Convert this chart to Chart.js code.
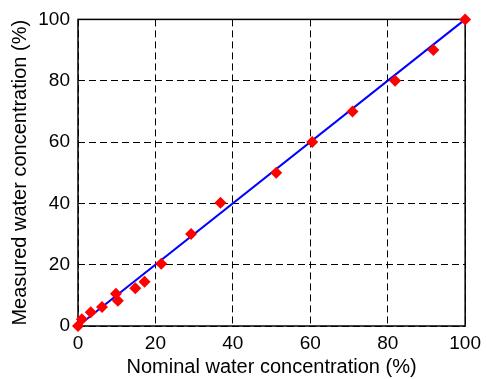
<!DOCTYPE html>
<html>
<head>
<meta charset="utf-8">
<script src="https://cdn.jsdelivr.net/npm/chart.js@4/dist/chart.umd.min.js"></script>
<style>
  html, body { margin: 0; padding: 0; background: #fff; }
  #wrap { width: 487px; height: 379px; }
</style>
</head>
<body>
<div id="wrap"><canvas id="waterChart" width="487" height="379"></canvas></div>
<script>
// Nominal vs measured water concentration (%)
const nominal  = [0, 1, 3.3, 6.2, 9.8, 10.3, 14.8, 17.2, 21.5, 29.2, 36.8, 51.2, 60.5, 70.9, 81.9, 91.8, 100];
const measured = [0, 2.2, 4.5, 6.2, 10.5, 8.2, 12.3, 14.4, 20.3, 30, 40.2, 50, 60, 70, 80, 90, 100];

// 1:1 reference line
const fitX = [0, 100];
const fitY = [0, 100];

const axisMin = 0;
const axisMax = 100;
const tickStep = 20;

const fontFamily = '"Liberation Sans", Arial, Helvetica, sans-serif';

const toPoints = function (xs, ys) {
    return xs.map(function (x, i) { return { x: x, y: ys[i] }; });
};

// solid frame round the plot area (grid lines are dashed)
const frameBox = {
    id: 'frameBox',
    beforeDatasetsDraw: function (chart) {
        const a = chart.chartArea;
        const ctx = chart.ctx;
        ctx.save();
        ctx.strokeStyle = '#000';
        ctx.lineWidth = 1.5;
        ctx.setLineDash([]);
        ctx.strokeRect(a.left, a.top, a.right - a.left, a.bottom - a.top);
        ctx.restore();
    }
};

const gridStyle = {
    color: '#000',
    lineWidth: 1,
    drawTicks: false
};

new Chart(document.getElementById('waterChart'), {
    type: 'scatter',
    data: {
        datasets: [
            {
                data: toPoints(fitX, fitY),
                showLine: true,
                borderColor: '#0000ff',
                borderWidth: 2,
                pointRadius: 0,
                clip: false,
                order: 2
            },
            {
                data: toPoints(nominal, measured),
                pointStyle: 'rectRot',
                pointRadius: 6,
                pointBackgroundColor: '#ff0000',
                pointBorderColor: '#ff0000',
                pointBorderWidth: 0,
                clip: false,
                order: 1
            }
        ]
    },
    options: {
        responsive: false,
        animation: false,
        layout: { padding: { left: 0, right: 20, top: 19, bottom: 0 } },
        plugins: { legend: { display: false }, tooltip: { enabled: false } },
        scales: {
            x: {
                type: 'linear',
                min: axisMin,
                max: axisMax,
                ticks: {
                    stepSize: tickStep,
                    color: '#000',
                    padding: 6,
                    maxRotation: 0,
                    font: { family: fontFamily, size: 19 }
                },
                grid: gridStyle,
                border: { display: false, dash: [7, 4] },
                title: {
                    display: true,
                    text: 'Nominal water concentration (%)',
                    color: '#000',
                    padding: { top: 0, bottom: 0 },
                    font: { family: fontFamily, size: 20 }
                },
                afterFit: function (scale) { scale.height = 53; }
            },
            y: {
                type: 'linear',
                min: axisMin,
                max: axisMax,
                ticks: {
                    stepSize: tickStep,
                    color: '#000',
                    padding: 8,
                    font: { family: fontFamily, size: 19 }
                },
                grid: gridStyle,
                border: { display: false, dash: [7, 4] },
                title: {
                    display: true,
                    text: 'Measured water concentration (%)',
                    color: '#000',
                    padding: { top: 8, bottom: 0 },
                    font: { family: fontFamily, size: 20 }
                },
                afterFit: function (scale) { scale.width = 78; }
            }
        }
    },
    plugins: [frameBox]
});
</script>
</body>
</html>
